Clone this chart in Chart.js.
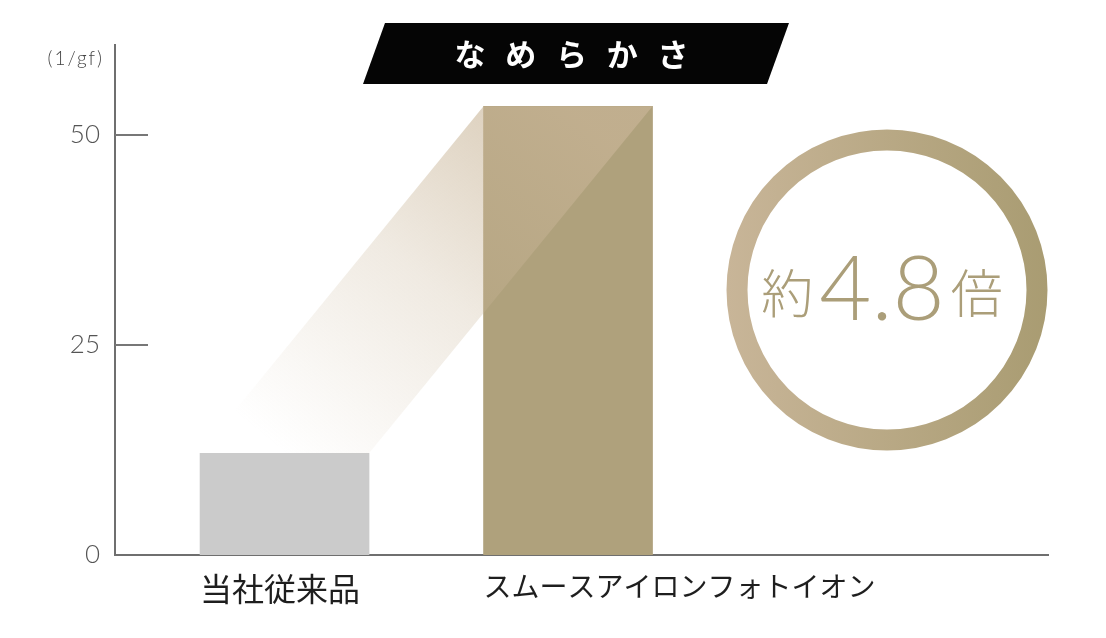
<!DOCTYPE html>
<html>
<head>
<meta charset="utf-8">
<script src="https://cdn.jsdelivr.net/npm/chart.js@4.4.1/dist/chart.umd.min.js"></script>
<style>
  html, body { margin: 0; padding: 0; background: #fff; }
  #wrap { width: 1106px; height: 638px; }
</style>
</head>
<body>
<div id="wrap"><canvas id="chart-smooth" width="1106" height="638"></canvas></div>
<script>
const categories = ['当社従来品', 'スムースアイロンフォトイオン'];
const values = [12.1, 53.4];
const barColors = ['#cbcbcb', '#afa17c'];
const yTicks = [0, 25, 50];
const yMax = 60.7;
const yUnit = '(1/gf)';
const title = 'なめらかさ';
const ratio = ['約', '4.8', '倍'];

const CJK = '"Noto Sans CJK JP", "Noto Sans", sans-serif';

// band from the old bar to the new one, banner, circle and inner tick marks
const deco = {
    id: 'deco',
    afterDatasetsDraw(chart) {
        const ctx = chart.ctx;
        const bars = chart.getDatasetMeta(0).data;
        const a = bars[0], b = bars[1];
        const g = ctx.createLinearGradient(a.x, a.y, b.x, b.y);
        g.addColorStop(0, 'rgba(200,180,150,0)');
        g.addColorStop(0.5, 'rgba(200,180,150,0.28)');
        g.addColorStop(1, 'rgba(200,180,150,0.7)');
        ctx.save();
        ctx.fillStyle = g;
        ctx.beginPath();
        ctx.moveTo(a.x - a.width / 2, a.y);
        ctx.lineTo(a.x + a.width / 2, a.y);
        ctx.lineTo(b.x + b.width / 2, b.y);
        ctx.lineTo(b.x - b.width / 2, b.y);
        ctx.closePath();
        ctx.fill();
        ctx.restore();
    },
    afterDraw(chart) {
        const ctx = chart.ctx;
        const area = chart.chartArea;
        const y = chart.scales.y;
        ctx.save();

        // short tick marks pointing into the plot
        ctx.strokeStyle = '#777';
        ctx.lineWidth = 2;
        yTicks.filter(v => v > 0).forEach(v => {
            const py = Math.round(y.getPixelForValue(v));
            ctx.beginPath();
            ctx.moveTo(area.left, py);
            ctx.lineTo(area.left + 33, py);
            ctx.stroke();
        });

        // unit label
        ctx.fillStyle = '#444';
        ctx.font = '300 19px Lato, sans-serif';
        ctx.letterSpacing = '2px';
        ctx.textAlign = 'right';
        ctx.textBaseline = 'middle';
        ctx.fillText(yUnit, area.left - 11, 59);
        ctx.letterSpacing = '0px';

        // title banner
        ctx.fillStyle = '#050505';
        ctx.beginPath();
        ctx.moveTo(385, 23);
        ctx.lineTo(789, 23);
        ctx.lineTo(767, 84);
        ctx.lineTo(363, 84);
        ctx.closePath();
        ctx.fill();
        ctx.fillStyle = '#fff';
        ctx.font = '700 31px ' + CJK;
        ctx.textAlign = 'center';
        ctx.textBaseline = 'middle';
        [...title].forEach((ch, i) => ctx.fillText(ch, 470 + i * 50.75, 54));

        // ratio circle
        const cx = 887, cy = 290;
        const rg = ctx.createLinearGradient(cx - 160, 0, cx + 160, 0);
        rg.addColorStop(0, '#c8b598');
        rg.addColorStop(1, '#a99c72');
        ctx.strokeStyle = rg;
        ctx.lineWidth = 21;
        ctx.beginPath();
        ctx.arc(cx, cy, 150, 0, Math.PI * 2);
        ctx.stroke();

        ctx.fillStyle = '#ab9e79';
        ctx.textAlign = 'left';
        ctx.textBaseline = 'alphabetic';
        const fonts = ['300 52px ' + CJK, '300 90px Lato, sans-serif', '300 52px ' + CJK];
        const gaps = [6, 6, 0];
        let total = 0;
        ratio.forEach((t, i) => { ctx.font = fonts[i]; total += ctx.measureText(t).width + gaps[i]; });
        let x = cx - 5 - total / 2;
        ratio.forEach((t, i) => {
            ctx.font = fonts[i];
            ctx.fillText(t, x, i === 1 ? 320 : 313);
            x += ctx.measureText(t).width + gaps[i];
        });
        ctx.restore();
    }
};

new Chart(document.getElementById('chart-smooth'), {
    type: 'bar',
    data: {
        datasets: [{
            data: values.map((v, i) => ({ x: i + 1, y: v })),
            backgroundColor: barColors,
            borderWidth: 0,
            barThickness: 169,
        }],
    },
    options: {
        responsive: false,
        animation: false,
        layout: { padding: { top: 45, right: 58, bottom: 0, left: 0 } },
        plugins: {
            legend: { display: false },
            tooltip: { enabled: false },
        },
        scales: {
            x: {
                type: 'linear',
                offset: false,
                min: 0.402,
                max: 3.693,
                grid: { display: false },
                border: { color: '#6f6f6f', width: 2 },
                afterBuildTicks: s => { s.ticks = categories.map((c, i) => ({ value: i + 1 })); },
                afterFit: s => { s.height = 83; s.paddingLeft = 0; s.paddingRight = 0; },
                ticks: {
                    autoSkip: false,
                    maxRotation: 0,
                    align: 'start',
                    labelOffset: -84.5,
                    padding: 7,
                    color: '#1e1e1e',
                    font: c => ({ family: CJK, size: c.index === 0 ? 32 : 28 }),
                    callback: v => categories[v - 1] || '',
                },
            },
            y: {
                min: 0,
                max: yMax,
                grid: { display: false },
                border: { color: '#6f6f6f', width: 2 },
                afterBuildTicks: s => { s.ticks = yTicks.map(v => ({ value: v })); },
                afterFit: s => { s.width = 115; },
                ticks: {
                    padding: 7,
                    color: '#555',
                    font: { family: 'Lato, sans-serif', size: 26, weight: '300' },
                },
            },
        },
    },
    plugins: [deco],
});
</script>
</body>
</html>
